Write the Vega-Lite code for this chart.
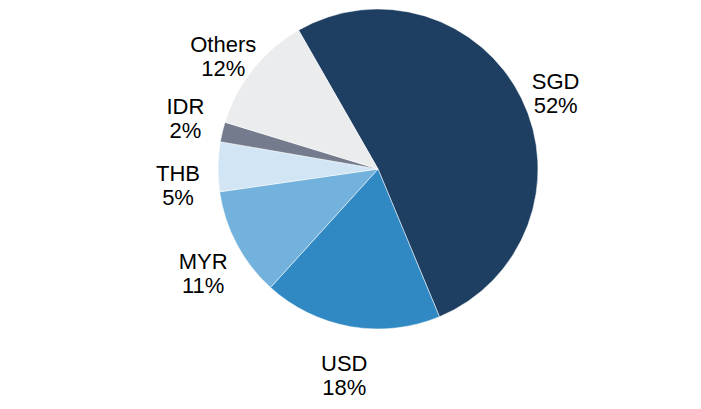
{
  "$schema": "https://vega.github.io/schema/vega-lite/v6.json",
  "width": 701,
  "height": 409,
  "autosize": {"type": "fit", "contains": "padding"},
  "padding": {"left": 55, "right": 0, "top": 5, "bottom": 50},
  "background": "white",
  "view": {"stroke": null},
  "data": {
    "values": [
      {"currency": "SGD", "share": 52, "order": 1},
      {"currency": "USD", "share": 18, "order": 2},
      {"currency": "MYR", "share": 11, "order": 3},
      {"currency": "THB", "share": 5, "order": 4},
      {"currency": "IDR", "share": 2, "order": 5},
      {"currency": "Others", "share": 12, "order": 6}
    ]
  },
  "transform": [{"calculate": "datum.currency + '\\n' + datum.share + '%'", "as": "label"}],
  "encoding": {
    "theta": {"field": "share", "type": "quantitative", "stack": true, "scale": {"range": [-0.52, 5.7632]}},
    "order": {"field": "order", "type": "ordinal"},
    "color": {
      "field": "currency",
      "type": "nominal",
      "legend": null,
      "scale": {
        "domain": ["SGD", "USD", "MYR", "THB", "IDR", "Others"],
        "range": ["#1e3f61", "#3189c4", "#72b2dc", "#d1e5f4", "#737b8c", "#ebecee"]
      }
    }
  },
  "layer": [
    {"mark": {"type": "arc", "outerRadius": 160, "stroke": "white", "strokeWidth": 0.5}},
    {
      "mark": {"type": "text", "radius": 198, "font": "Liberation Sans", "fontSize": 22, "lineBreak": "\n", "baseline": "middle"},
      "encoding": {
        "text": {"condition": {"test": "datum.currency != 'IDR' && datum.currency != 'THB'", "field": "label"}, "value": ""},
        "color": {"value": "black"}
      }
    },
    {
      "mark": {"type": "text", "radius": 198, "dy": -16, "font": "Liberation Sans", "fontSize": 22, "lineBreak": "\n", "baseline": "middle"},
      "encoding": {
        "text": {"condition": {"test": "datum.currency == 'IDR'", "field": "label"}, "value": ""},
        "color": {"value": "black"}
      }
    },
    {
      "mark": {"type": "text", "radius": 200, "dy": 8, "font": "Liberation Sans", "fontSize": 22, "lineBreak": "\n", "baseline": "middle"},
      "encoding": {
        "text": {"condition": {"test": "datum.currency == 'THB'", "field": "label"}, "value": ""},
        "color": {"value": "black"}
      }
    }
  ]
}
